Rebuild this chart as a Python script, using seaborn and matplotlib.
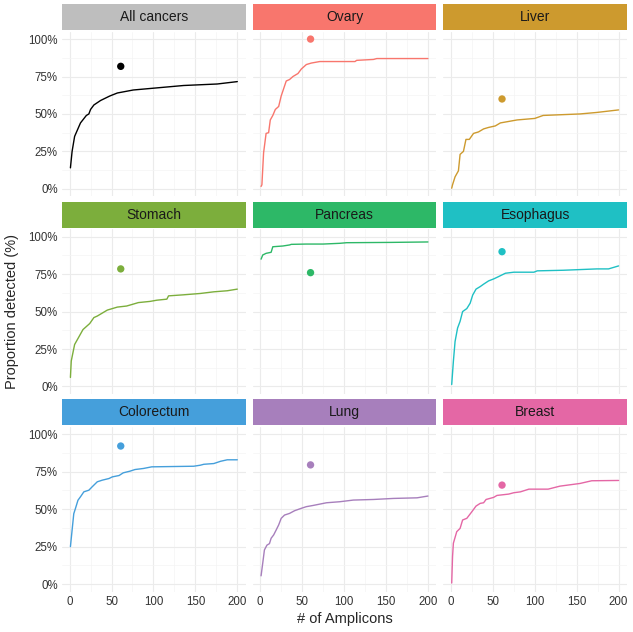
import numpy as np
import pandas as pd
import matplotlib.pyplot as plt
import seaborn as sns
from matplotlib.ticker import PercentFormatter, MultipleLocator
from matplotlib.patches import Rectangle

# cumulative detection curves
all_x = [1, 3, 6, 13, 20, 23, 25, 29, 37, 48, 57, 76, 96, 136, 176, 200]
all_y = [0.14, 0.25, 0.35, 0.44, 0.49, 0.50, 0.53, 0.56, 0.59, 0.62, 0.64, 0.66, 0.67, 0.69, 0.70, 0.716]

ovary_x = [1, 2, 4, 7, 10, 12, 15, 18, 22, 25, 28, 31, 35, 39, 45, 49, 55, 61, 71, 113, 115, 135, 139, 200]
ovary_y = [0.016, 0.027, 0.24, 0.37, 0.375, 0.46, 0.49, 0.53, 0.55, 0.62, 0.67, 0.72, 0.73, 0.75, 0.77,
           0.80, 0.83, 0.84, 0.85, 0.85, 0.858, 0.864, 0.87, 0.87]

liver_x = [1, 2, 5, 9, 11, 15, 18, 22, 27, 33, 39, 45, 53, 59, 69, 79, 100, 110, 154, 174, 200]
liver_y = [0.004, 0.027, 0.08, 0.12, 0.23, 0.25, 0.33, 0.33, 0.37, 0.38, 0.40, 0.41, 0.42, 0.44,
           0.45, 0.46, 0.47, 0.49, 0.50, 0.51, 0.527]

stomach_x = [1, 2, 6, 10, 13, 16, 20, 24, 29, 33, 39, 45, 51, 57, 68, 76, 82, 96, 104, 116, 118,
             136, 156, 172, 188, 200]
stomach_y = [0.06, 0.17, 0.28, 0.32, 0.35, 0.38, 0.40, 0.42, 0.46, 0.47, 0.49, 0.51, 0.52, 0.53,
             0.537, 0.55, 0.56, 0.568, 0.576, 0.583, 0.605, 0.612, 0.621, 0.632, 0.639, 0.65]

pancreas_x = [1, 3, 7, 13, 15, 27, 35, 37, 55, 75, 95, 103, 155, 200]
pancreas_y = [0.85, 0.878, 0.889, 0.896, 0.933, 0.938, 0.945, 0.949, 0.951, 0.951, 0.956, 0.96, 0.962, 0.965]

esophagus_x = [1, 3, 5, 8, 11, 14, 19, 23, 26, 30, 35, 39, 45, 51, 57, 65, 75, 99, 103, 134, 174,
               188, 200]
esophagus_y = [0.013, 0.168, 0.30, 0.39, 0.435, 0.50, 0.52, 0.556, 0.61, 0.65, 0.667, 0.683, 0.705,
               0.718, 0.734, 0.756, 0.763, 0.763, 0.772, 0.776, 0.785, 0.785, 0.805]

colorectum_x = [1, 3, 5, 7, 10, 13, 17, 23, 27, 33, 39, 47, 51, 59, 64, 72, 78, 88, 98, 148, 156,
                160, 172, 180, 188, 200]
colorectum_y = [0.25, 0.36, 0.47, 0.505, 0.56, 0.583, 0.616, 0.627, 0.65, 0.683, 0.694, 0.705, 0.716,
                0.725, 0.743, 0.754, 0.765, 0.772, 0.783, 0.787, 0.794, 0.80, 0.805, 0.82, 0.83, 0.83]

lung_x = [1, 3, 5, 8, 11, 13, 16, 19, 22, 25, 29, 35, 41, 49, 55, 63, 71, 79, 95, 111, 135, 159,
          187, 200]
lung_y = [0.055, 0.14, 0.228, 0.26, 0.27, 0.306, 0.328, 0.361, 0.395, 0.439, 0.461, 0.472, 0.49,
          0.506, 0.517, 0.525, 0.534, 0.543, 0.55, 0.561, 0.565, 0.572, 0.576, 0.588]

breast_x = [1, 2, 3, 7, 11, 14, 19, 25, 30, 35, 39, 42, 51, 55, 69, 75, 83, 93, 116, 130, 154, 168, 200]
breast_y = [0.007, 0.184, 0.273, 0.35, 0.372, 0.428, 0.439, 0.483, 0.521, 0.539, 0.543, 0.565, 0.579,
            0.592, 0.601, 0.61, 0.616, 0.634, 0.634, 0.654, 0.672, 0.69, 0.692]

cancers = ["All cancers", "Ovary", "Liver", "Stomach", "Pancreas", "Esophagus",
           "Colorectum", "Lung", "Breast"]
curve_x = [all_x, ovary_x, liver_x, stomach_x, pancreas_x, esophagus_x, colorectum_x, lung_x, breast_x]
curve_y = [all_y, ovary_y, liver_y, stomach_y, pancreas_y, esophagus_y, colorectum_y, lung_y, breast_y]

# single detection point per panel
point_x = [61, 60, 61, 61, 60, 61, 61, 60, 61]
point_y = [0.818, 1.0, 0.60, 0.785, 0.76, 0.90, 0.922, 0.796, 0.661]

line_colors = ["black", "#F8766D", "#CD9A2E", "#7CAE3C", "#2DB867", "#1FC0C4", "#459FDB", "#A77FBC", "#E467A5"]
strip_colors = ["#BEBEBE"] + line_colors[1:]

sns.set_theme(style="whitegrid")
plt.rcParams["font.family"] = ["Liberation Sans", "DejaVu Sans"]

fig, axes = plt.subplots(3, 3, figsize=(6.33, 6.32), dpi=100, sharex=True, sharey=True)
fig.subplots_adjust(left=0.098, right=0.9905, top=0.950, bottom=0.064, wspace=0.038, hspace=0.2)

for i, ax in enumerate(axes.flat):
    df = pd.DataFrame({"x": curve_x[i], "y": curve_y[i]})
    sns.lineplot(data=df, x="x", y="y", ax=ax, color=line_colors[i], lw=1.0, estimator=None)
    pt = pd.DataFrame({"x": [point_x[i]], "y": [point_y[i]]})
    sns.scatterplot(data=pt, x="x", y="y", ax=ax, color=line_colors[i], s=28, edgecolor="none")

    ax.set_xlim(-9, 210)
    ax.set_ylim(-0.05, 1.05)
    ax.xaxis.set_major_locator(MultipleLocator(50))
    ax.xaxis.set_minor_locator(MultipleLocator(25))
    ax.yaxis.set_major_locator(MultipleLocator(0.25))
    ax.yaxis.set_minor_locator(MultipleLocator(0.125))
    ax.yaxis.set_major_formatter(PercentFormatter(xmax=1, decimals=0))
    ax.grid(which="major", color="#EBEBEB", lw=0.8)
    ax.grid(which="minor", color="#F4F4F4", lw=0.5)
    ax.set_facecolor("white")
    for s in ax.spines.values():
        s.set_visible(False)
    ax.tick_params(which="both", length=0, labelsize=8.3, labelcolor="#333333", pad=3)
    ax.set_xlabel("")
    ax.set_ylabel("")

    # facet strip
    ax.add_patch(Rectangle((0, 1.01), 1, 0.158, transform=ax.transAxes,
                           facecolor=strip_colors[i], edgecolor="none", clip_on=False))
    ax.text(0.5, 1.089, cancers[i], transform=ax.transAxes, ha="center", va="center",
            fontsize=10, color="#1A1A1A")

fig.text(0.545, 0.021, "# of Amplicons", ha="center", va="center", fontsize=10.5)
fig.text(0.019, 0.507, "Proportion detected (%)", ha="center", va="center", rotation=90, fontsize=10.5)

fig.savefig("out.png", dpi=100, facecolor="white")
